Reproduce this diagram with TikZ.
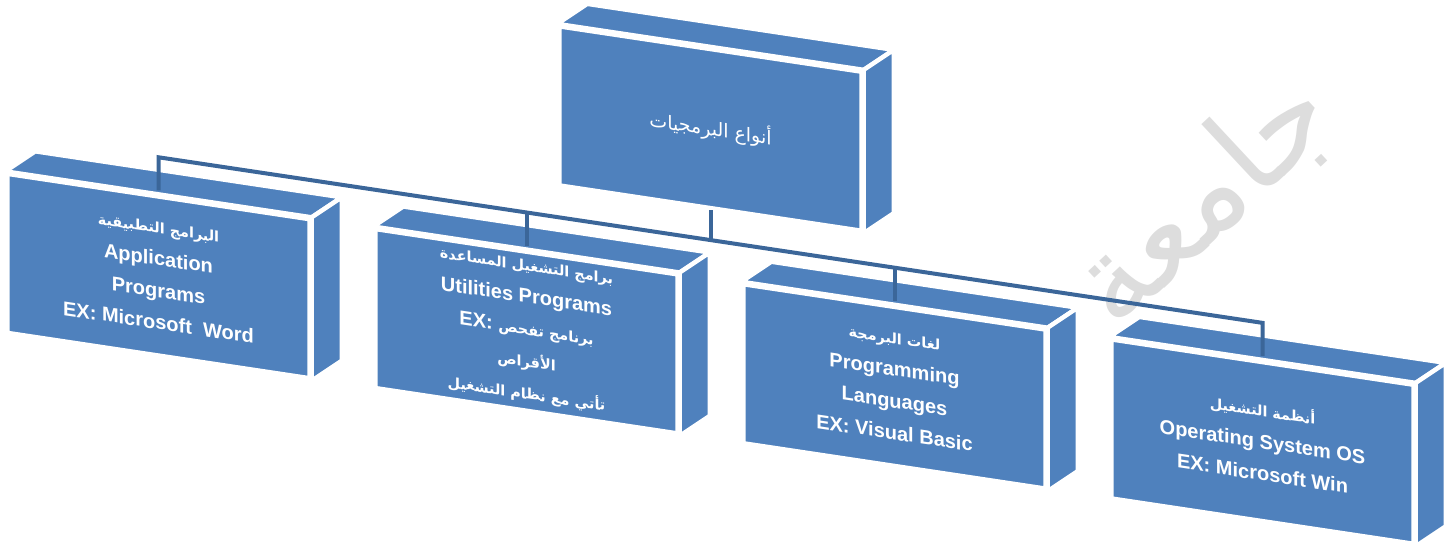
\documentclass[tikz,border=0pt]{standalone}
\usepackage{fontspec}
\setmainfont{Liberation Sans}
\newfontfamily\arabicfont[Script=Arabic]{DejaVu Sans}
\TeXXeTstate=1
\usepackage[HTML]{xcolor}
\usetikzlibrary{positioning, calc}

\definecolor{boxblue}{HTML}{4F81BD}
\definecolor{linkblue}{HTML}{3B6699}
\definecolor{markgray}{HTML}{DDDDDD}

% Arabic line inside a box (optional size)
\newcommand{\artext}[2][7.2]{{\arabicfont\fontsize{#1}{16}\selectfont\beginR #2\endR}}

% top and right faces of a box
\newcommand{\boxsides}[1]{%
    \draw[sideface] (#1.north west) -- ++(30,-24.5)
        -- ($(#1.north east)+(30,-24.5)$) -- (#1.north east) -- cycle;
    \draw[sideface] (#1.north east) -- ++(30,-24.5)
        -- ($(#1.south east)+(30,-24.5)$) -- (#1.south east) -- cycle;
}

\begin{document}
\begin{tikzpicture}[
    x=0.5pt, y=-0.5pt, % one unit = one pixel of the reference
    frontface/.style={draw=white, line width=2.2pt, fill=boxblue, text=white,
        minimum width=151pt, minimum height=79.5pt, inner sep=0pt,
        align=center, transform shape,
        font=\bfseries\fontsize{10}{16}\selectfont},
    sideface/.style={draw=white, line width=2.2pt, fill=boxblue},
    link/.style={draw=linkblue, line width=2pt}
]
    \useasboundingbox (0,0) rectangle (1453,542);

    % 0. Watermark behind everything
    \node[text=markgray, rotate=43, font=\fontsize{62}{64}\selectfont] (mark)
        at (1203,200) {\arabicfont\beginR جامعة\endR};

    \begin{scope}[cm={1,-0.15,0,1,(0,0)}]
        % 1. Define the boxes
        \node[frontface] (root) at (710.5,22) {\mdseries\artext[9.5]{أنواع البرمجيات}};
        \boxsides{root}

        \node[frontface] (app) at (158.5,252.25)
            {\artext{البرامج التطبيقية}\\ Application\\ Programs\\ EX: Microsoft~ Word};
        \boxsides{app}

        \node[frontface] (util) at (526.5,252.25)
            {\artext{برامج التشغيل المساعدة}\\ Utilities Programs\\
             EX: \artext{برنامج تفحص}\\ \artext{الأقراص}\\ \artext{تأتي مع نظام التشغيل}};
        \boxsides{util}

        \node[frontface] (lang) at (894.5,252.25)
            {\artext{لغات البرمجة}\\ Programming\\ Languages\\ EX: Visual Basic};
        \boxsides{lang}

        \node[frontface] (os) at (1262.5,252.25)
            {\artext{أنظمة التشغيل}\\ Operating System OS\\ EX: Microsoft Win};
        \boxsides{os}

        % 2. Bus points
        \coordinate (busroot) at (710.5,133.5);
        \coordinate (busapp) at (158.5,133.5);
        \coordinate (busutil) at (526.5,133.5);
        \coordinate (buslang) at (894.5,133.5);
        \coordinate (busos) at (1262.5,133.5);

        % 3. Draw the connectors
        \draw[link] (root.south) -- (busroot);
        \draw[link, line join=miter, shorten <=2pt, shorten >=2pt]
            (app.north) -- (busapp) -- (busos) -- (os.north);
        \draw[link, shorten >=2pt] (busutil) -- (util.north);
        \draw[link, shorten >=2pt] (buslang) -- (lang.north);
    \end{scope}
\end{tikzpicture}
\end{document}
